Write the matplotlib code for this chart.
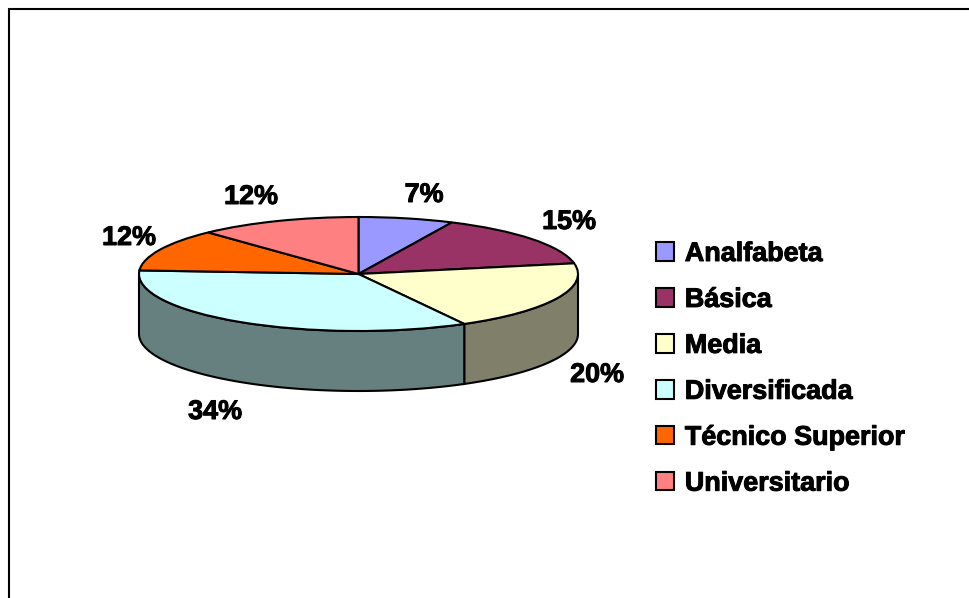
import numpy as np
from matplotlib import pyplot as plt
from matplotlib import patheffects as pe

categories = ['Analfabeta', 'Básica', 'Media', 'Diversificada', 'Técnico Superior', 'Universitario']
values = [7, 15, 20, 34, 12, 12]
pct_labels = ['7%', '15%', '20%', '34%', '12%', '12%']
colors = ['#9999FF', '#993366', '#FFFFCC', '#CCFFFF', '#FF6600', '#FF8080']
side_colors = ['#6B6B99', '#5C1F3D', '#80806A', '#668080', '#994000', '#994D4D']

W, H = 969, 598
CX, CY = 358.5, 274
RX, RY = 219.5, 57
DEPTH = 60 / RY
FS = 19.4

plt.rcParams['font.family'] = ['Liberation Sans', 'DejaVu Sans']

fig = plt.figure(figsize=(W / 100, H / 100), dpi=100)
ax = fig.add_axes([0, 0, 1, 1])

# top of the pie, one unit of data = one radius on each direction
wedges, _ = ax.pie(values, colors=colors, startangle=90, counterclock=False,
                   wedgeprops={'edgecolor': 'black', 'linewidth': 1.5})

# data limits chosen so the ellipse lands at the right place in pixels
ax.set_aspect('auto')
ax.set_xlim(-CX / RX, (W - CX) / RX)
ax.set_ylim(-(H - CY) / RY, CY / RY)

# side wall, only the part of the rim that faces the viewer
edges = np.cumsum([0] + values) / sum(values) * 2 * np.pi
for i in range(len(values)):
    a0 = max(edges[i], np.pi / 2)
    a1 = min(edges[i + 1], 3 * np.pi / 2)
    if a1 <= a0:
        continue
    t = np.linspace(a0, a1, 80)
    x = np.sin(t)
    y = np.cos(t)
    ax.fill(np.r_[x, x[::-1]], np.r_[y, y[::-1] - DEPTH], facecolor=side_colors[i],
            edgecolor='black', linewidth=1.5, zorder=0.5)

# the reference text is heavier than plain bold
heavy = [pe.withStroke(linewidth=0.7, foreground='black')]

# percent labels, in pixels from the top left corner
label_xy = [(424, 195), (569, 222), (597, 375), (215, 412), (129, 238), (251, 197)]
for lab, (px, py) in zip(pct_labels, label_xy):
    ax.text((px - CX) / RX, (CY - py) / RY, lab, fontsize=FS, fontweight='bold',
            ha='center', va='center', path_effects=heavy)

leg = ax.legend(wedges, categories, loc='upper left', bbox_to_anchor=(656 / W, 1 - 241 / H),
                bbox_transform=fig.transFigure, frameon=False, borderpad=0, borderaxespad=0,
                handlelength=0.67, handleheight=0.67, handletextpad=0.40, labelspacing=0.74,
                prop={'size': FS, 'weight': 'bold'})
for txt in leg.get_texts():
    txt.set_path_effects(heavy)

# chart frame
frame = plt.Rectangle((9 / W, -0.1), 2, 1.1 - 9.5 / H, transform=fig.transFigure,
                      fill=False, edgecolor='black', linewidth=1.5, clip_on=False)
fig.add_artist(frame)

fig.savefig('out.png', dpi=100)
